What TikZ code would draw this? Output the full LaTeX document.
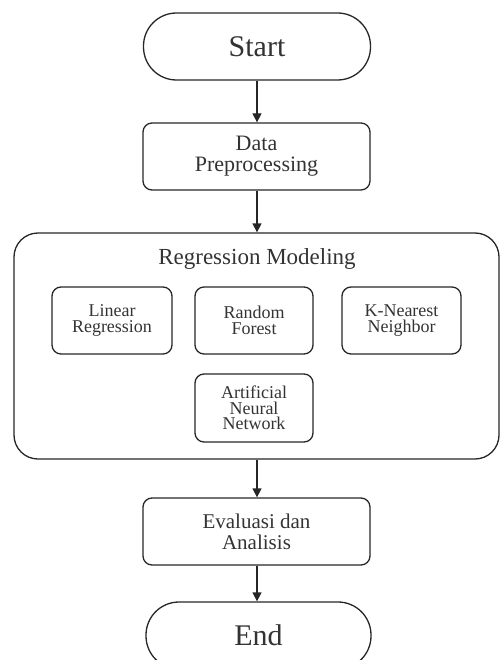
\documentclass[tikz,border=0pt]{standalone}
\usepackage{fontspec}
\setmainfont{Liberation Serif}
\usetikzlibrary{arrows.meta}
\definecolor{ink}{HTML}{262626}
\definecolor{txt}{HTML}{333333}
\begin{document}
\begin{tikzpicture}[x=1pt,y=-1pt,
  every node/.style={text=txt, inner sep=0pt, align=center},
  terminal/.style={draw=ink, line width=1.3pt, rounded corners=33pt,
    minimum width=227pt, minimum height=67pt, font=\fontsize{30}{30}\selectfont},
  process/.style={draw=ink, line width=1.3pt, rounded corners=9pt,
    minimum width=227pt, minimum height=67pt, font=\fontsize{22}{21}\selectfont},
  group/.style={draw=ink, line width=1.3pt, rounded corners=24pt,
    minimum width=485pt, minimum height=226pt},
  method/.style={draw=ink, line width=1.3pt, rounded corners=9pt,
    minimum width=119pt, minimum height=67pt, font=\fontsize{18}{16}\selectfont},
  flow/.style={draw=ink, line width=1.3pt, -{Triangle[length=9pt,width=9pt]}}
]
\useasboundingbox (0,0) rectangle (503,660);
\clip (0,0) rectangle (503,660);

% main flow
\node[terminal] (start) at (257,46.5) {Start};
\node[process] (prep) at (256.5,156.5) {Data\\Preprocessing};
\node[group] (model) at (256.5,346) {};
\node[font=\fontsize{23}{23}\selectfont, anchor=base] (title) at (257,264) {Regression Modeling};
\node[process, font=\fontsize{21}{21}\selectfont] (eval) at (256.5,531.5) {Evaluasi dan\\Analisis};
\node[terminal, minimum width=225pt] (end) at (258.5,635.5) {End};

% regression methods
\node[method, minimum width=120pt] (lr) at (112,320.5) {Linear\\Regression};
\node[method, minimum width=118pt] (rf) at (254,320.5) {Random\\Forest};
\node[method] (knn) at (401.5,320.5) {K-Nearest\\Neighbor};
\node[method, minimum width=118pt, minimum height=68pt, font=\fontsize{18}{15.5}\selectfont] (ann) at (254,408) {Artificial\\Neural\\Network};

% connectors
\draw[flow] (start.south -| 257,0) -- (prep.north -| 257,0);
\draw[flow] (prep.south -| 257,0) -- (model.north -| 257,0);
\draw[flow] (model.south -| 257,0) -- (eval.north -| 257,0);
\draw[flow] (eval.south -| 257,0) -- (end.north -| 257,0);
\end{tikzpicture}
\end{document}
